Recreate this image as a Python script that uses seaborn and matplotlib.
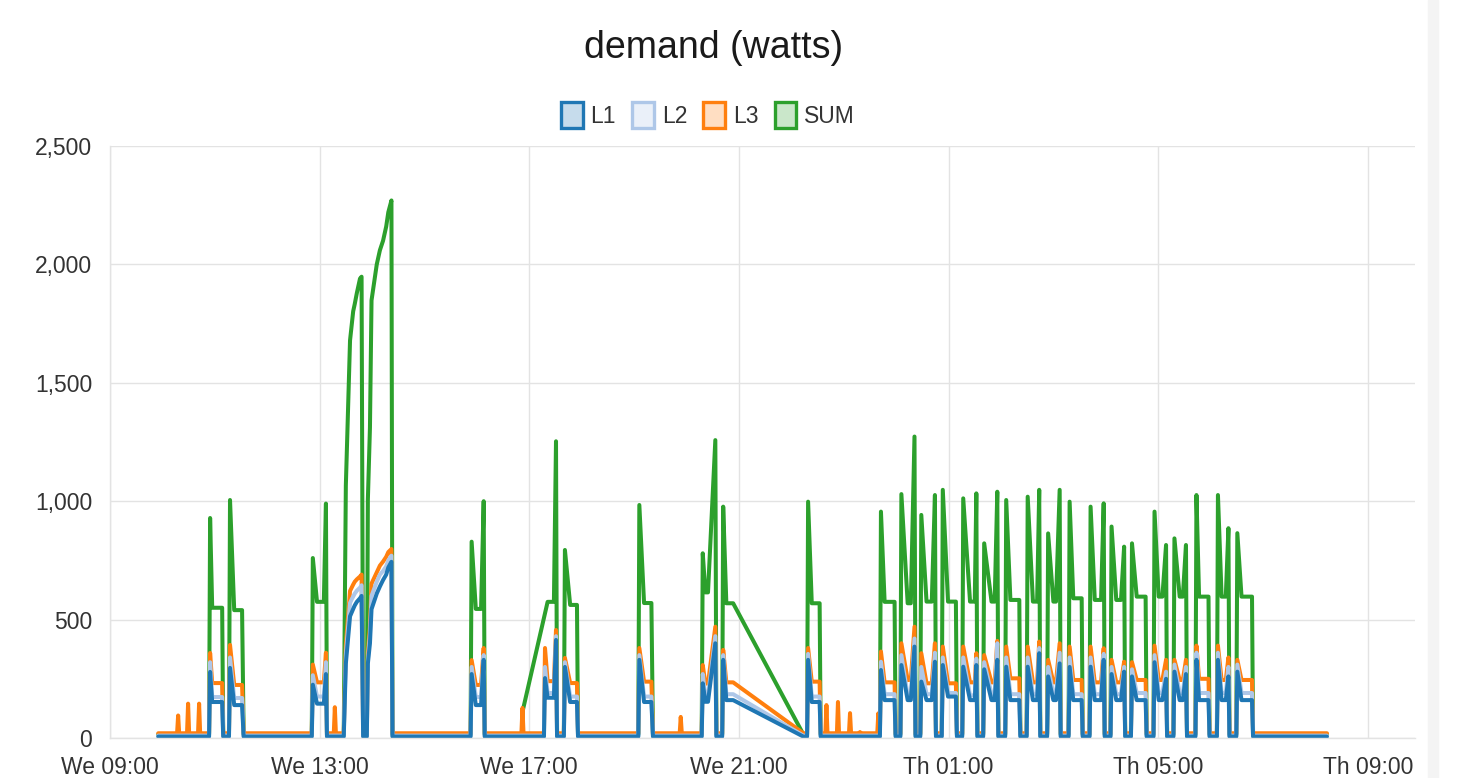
import matplotlib
matplotlib.use("Agg")
import matplotlib.pyplot as plt
import matplotlib.patches as mpatches
from matplotlib.colors import to_rgba
from matplotlib.ticker import FuncFormatter
import pandas as pd
import seaborn as sns

# Hours counted from Wednesday 00:00
T_START = 9.92
T_END = 32.22
STEP = 0.02  # one sample, roughly

TICK_HOURS = [9, 13, 17, 21, 25, 29, 33]
TICK_LABELS = ["We 09:00", "We 13:00", "We 17:00", "We 21:00",
               "Th 01:00", "Th 05:00", "Th 09:00"]
PHASES = ["L1", "L2", "L3", "SUM"]
COLORS = {"L1": "#1f77b4", "L2": "#aec7e8", "L3": "#ff7f0e", "SUM": "#2ca02c"}
BASE = {"L1": 6, "L2": 10, "L3": 20, "SUM": 15}

# Regular on/off cycles: start spike, plateau, optional end spike
SUM_ON = [10.91, 11.29, 12.87, 15.90, 16.88, 17.68, 19.10, 20.31, 20.70, 22.32,
          23.71, 24.10, 24.48, 24.89, 25.28, 25.68, 26.10, 26.51, 26.90, 27.31,
          27.71, 28.11, 28.50, 28.93, 29.31, 29.73, 30.14, 30.51]
PHASE_ON = [10.91, 11.29, 12.87, 15.90, 17.30, 17.68, 19.10, 20.31, 20.70, 22.32,
            23.71, 24.10, 24.48, 24.89, 25.28, 25.68, 26.10, 26.51, 26.90, 27.31,
            27.71, 28.11, 28.50, 28.93, 29.31, 29.73, 30.14, 30.51]
RISE = [10.95, 11.37, 12.95, 15.98, 17.35, 17.78, 19.19, 20.36, 20.76, 22.39,
        23.78, 24.22, 24.58, 24.99, 25.41, 25.82, 26.18, 26.61, 27.00, 27.38,
        27.79, 28.20, 28.59, 29.01, 29.41, 29.78, 30.21, 30.59]
FALL = [11.14, 11.52, 13.08, 16.08, 17.47, 17.91, 19.33, 20.41, 20.89, 22.54,
        23.97, 24.28, 24.68, 25.14, 25.50, 25.88, 26.35, 26.69, 27.05, 27.54,
        27.91, 28.29, 28.76, 29.08, 29.47, 29.96, 30.29, 30.79]
OFF = [11.16, 11.55, 13.14, 16.15, 17.53, 17.93, 19.36, 20.57, 22.23, 22.56,
       23.99, 24.37, 24.76, 25.16, 25.55, 25.95, 26.37, 26.75, 27.14, 27.56,
       27.98, 28.37, 28.78, 29.17, 29.55, 29.98, 30.36, 30.81]

SUM_A = [929, 1005, 760, 829, 120, 794, 984, 780, 977, 998,
         956, 1030, 942, 1048, 1012, 822, 1005, 1019, 864, 998,
         977, 893, 822, 956, 843, 1026, 1026, 865]
SUM_P = [550, 540, 575, 545, 575, 562, 570, 615, 569, 569,
         575, 569, 576, 576, 576, 576, 583, 576, 576, 590,
         583, 583, 597, 597, 597, 597, 597, 597]
SUM_B = [0, 0, 990, 1000, 1253, 0, 0, 1258, 0, 0,
         0, 1273, 1026, 0, 1033, 1040, 0, 1048, 1048, 0,
         991, 808, 0, 815, 815, 0, 886, 0]

L1_A = [279, 296, 225, 270, 253, 300, 330, 231, 330, 330,
        287, 308, 238, 308, 301, 290, 301, 301, 260, 300,
        301, 270, 260, 320, 280, 330, 330, 280]
L1_P = [152, 139, 145, 139, 170, 152, 152, 153, 160, 152,
        160, 160, 160, 175, 160, 160, 160, 160, 160, 160,
        160, 160, 160, 160, 160, 160, 160, 160]
L1_B = [0, 0, 270, 330, 414, 0, 0, 400, 0, 0,
        0, 386, 322, 0, 308, 330, 0, 358, 315, 0,
        330, 280, 0, 250, 270, 0, 260, 0]
L2_A = [320, 340, 265, 300, 300, 320, 350, 270, 350, 355,
        322, 350, 300, 340, 340, 320, 340, 340, 300, 340,
        340, 300, 290, 350, 310, 360, 360, 310]
L2_P = [173, 169, 175, 173, 190, 175, 175, 175, 185, 175,
        185, 180, 185, 190, 180, 185, 185, 185, 185, 185,
        185, 185, 190, 190, 190, 190, 190, 190]
L2_B = [0, 0, 320, 350, 430, 0, 0, 430, 0, 0,
        0, 420, 360, 0, 335, 400, 0, 380, 360, 0,
        355, 300, 0, 280, 300, 0, 300, 0]
L3_A = [359, 393, 310, 329, 380, 338, 380, 308, 372, 380,
        365, 400, 358, 386, 386, 350, 386, 386, 330, 386,
        386, 330, 320, 390, 330, 390, 390, 330]
L3_P = [232, 224, 235, 224, 240, 232, 238, 230, 235, 238,
        235, 245, 231, 231, 235, 235, 252, 235, 235, 245,
        235, 235, 245, 245, 245, 250, 245, 245]
L3_B = [0, 0, 360, 380, 456, 0, 0, 470, 0, 0,
        0, 470, 400, 0, 358, 410, 0, 407, 400, 0,
        379, 322, 0, 330, 330, 0, 340, 0]

# The two long heating bursts around 13:30-14:30
BURST_H = [13.46, 13.50, 13.58, 13.61, 13.64, 13.67, 13.71, 13.77, 13.80, 13.83,
           13.90, 13.92, 13.96, 13.99, 14.09, 14.15, 14.21, 14.27, 14.31, 14.37, 14.39]
SUM_BURST = [15, 1066, 1679, 1741, 1802, 1833, 1879, 1940, 1948, 15,
             15, 1005, 1311, 1848, 2000, 2060, 2100, 2160, 2220, 2270, 15]
L1_BURST = [6, 314, 514, 530, 545, 560, 575, 590, 600, 6,
            6, 314, 400, 544, 610, 640, 667, 690, 720, 744, 6]
L2_BURST = [10, 350, 570, 585, 598, 610, 622, 635, 645, 10,
            10, 330, 440, 600, 660, 690, 705, 725, 750, 770, 10]
L3_BURST = [20, 391, 621, 635, 648, 660, 670, 682, 690, 20,
            20, 360, 470, 652, 700, 728, 745, 765, 785, 798, 20]

# Short spikes seen on L3 only
L3_SPIKE_H = [10.30, 10.49, 10.70, 13.29, 13.86, 16.87, 19.89,
              22.67, 22.89, 23.12, 23.31, 23.66]
L3_SPIKE_W = [95, 145, 145, 130, 84, 127, 89, 139, 152, 105, 25, 104]


def build_phase(base, on, a, p, b, burst, spikes=None):
    """Turn the cycle table of one phase into time/value points."""
    pts = [(T_START, base), (T_END, base)]
    for t0, va, t1, t2, vp, vb, t3 in zip(on, a, RISE, FALL, p, b, OFF):
        pts += [(t0 - STEP, base), (t0, va), (t1, vp), (t2, vp)]
        if vb:
            pts.append((t3 - STEP, vb))
        pts.append((t3, base))
    pts += list(zip(BURST_H, burst))
    if spikes:
        for t, v in zip(*spikes):
            pts += [(t - STEP, base), (t, v), (t + STEP, base)]
    pts.sort()
    return pts


def main():
    series = {
        "SUM": build_phase(BASE["SUM"], SUM_ON, SUM_A, SUM_P, SUM_B, SUM_BURST),
        "L3": build_phase(BASE["L3"], PHASE_ON, L3_A, L3_P, L3_B, L3_BURST,
                          (L3_SPIKE_H, L3_SPIKE_W)),
        "L2": build_phase(BASE["L2"], PHASE_ON, L2_A, L2_P, L2_B, L2_BURST),
        "L1": build_phase(BASE["L1"], PHASE_ON, L1_A, L1_P, L1_B, L1_BURST),
    }
    frames = [pd.DataFrame(pts, columns=["hour", "watts"]).assign(phase=k)
              for k, pts in series.items()]
    df = pd.concat(frames, ignore_index=True)

    sns.set_style("white")
    plt.rcParams["font.family"] = ["Liberation Sans", "DejaVu Sans"]
    grid = "#e3e3e3"
    text = "#333333"

    W, H = 1473, 778
    fig = plt.figure(figsize=(W / 100, H / 100), dpi=100)
    ax = fig.add_axes([110 / W, 1 - 738 / H, (1415 - 110) / W, (738 - 146) / H])

    sns.lineplot(data=df, x="hour", y="watts", hue="phase",
                 hue_order=["SUM", "L3", "L2", "L1"], palette=COLORS,
                 estimator=None, sort=False, linewidth=2.9, legend=False, ax=ax)

    # Axes
    ax.set(xlim=(9.0, 33.9), ylim=(0, 2500), xlabel="", ylabel="")
    ax.set_xticks(TICK_HOURS)
    ax.set_xticklabels(TICK_LABELS)
    ax.set_yticks(range(0, 2501, 500))
    ax.yaxis.set_major_formatter(FuncFormatter(lambda v, _: f"{v:,.0f}"))
    ax.grid(True, color=grid, linewidth=1.0)
    ax.set_axisbelow(True)
    ax.tick_params(length=7.2, width=1.0, color=grid, labelsize=16.5,
                   labelcolor=text)
    ax.tick_params(axis="y", pad=5.5)
    ax.tick_params(axis="x", pad=6.0)
    for side in ("top", "right"):
        ax.spines[side].set_visible(False)
    for side in ("left", "bottom"):
        ax.spines[side].set_color(grid)
        ax.spines[side].set_linewidth(1.0)

    # Title and legend
    fig.text(713.5 / W, 1 - 48 / H, "demand (watts)", ha="center", va="center",
             fontsize=27, color="#1a1a1a")
    handles = [mpatches.Patch(facecolor=to_rgba(COLORS[k], 0.25),
                              edgecolor=COLORS[k], linewidth=2.4, label=k)
               for k in PHASES]
    fig.legend(handles=handles, loc="center", ncol=4, frameon=False,
               bbox_to_anchor=(708 / W, 1 - 115 / H), fontsize=16.5,
               handlelength=0.95, handleheight=1.35, handletextpad=0.35,
               columnspacing=0.7, labelcolor=text)

    # Page edge to the right of the canvas
    fig.patches.append(mpatches.Rectangle((1428 / W, 0), 10 / W, 1,
                                          transform=fig.transFigure,
                                          color="#f4f4f4", zorder=0))

    fig.savefig("out.png", dpi=100)


if __name__ == "__main__":
    main()
